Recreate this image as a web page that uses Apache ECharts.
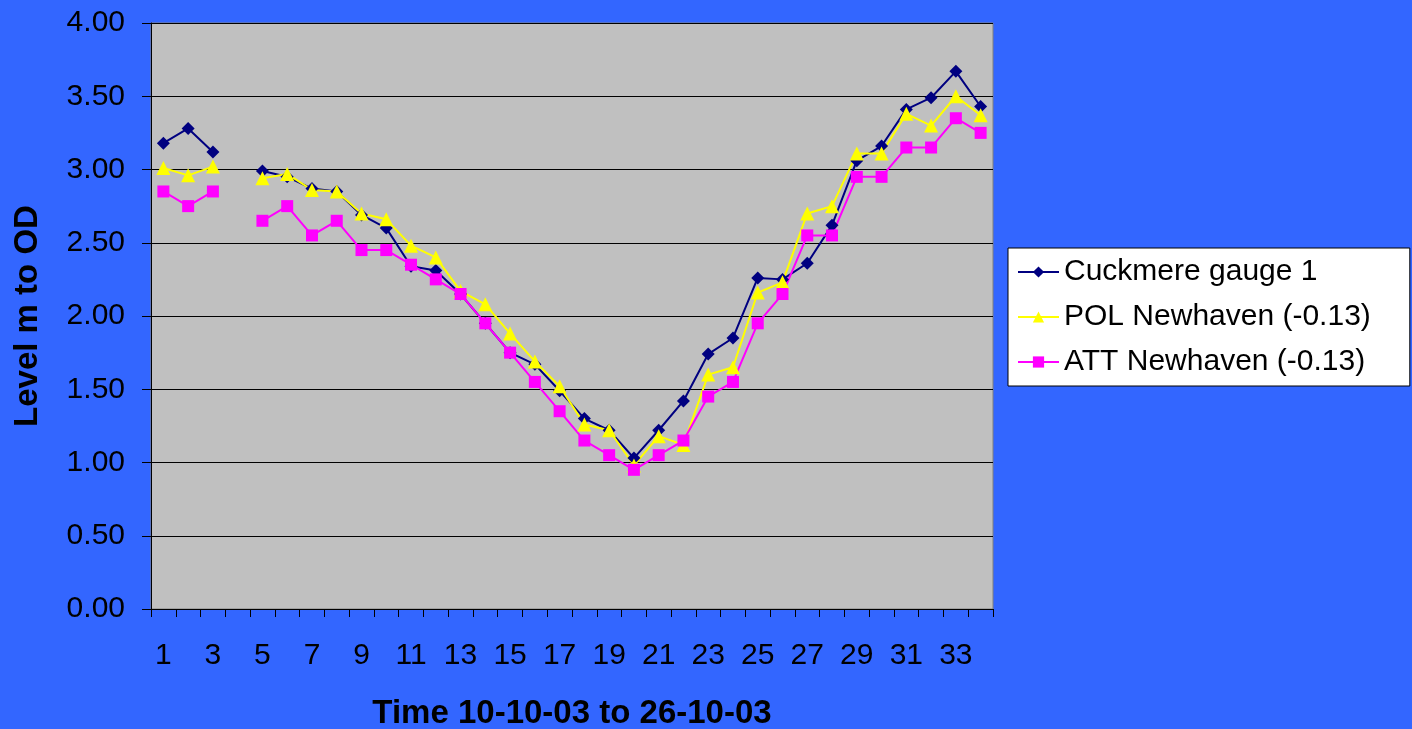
<!doctype html>
<html style="width: 100%; height: 100%"><head><meta charset="utf-8"></head>
<body style="width: 100%; height: 100%; margin: 0; background: #3366FF">
<div id="container" style="width: 1412px; height: 729px"></div>
<script type="text/javascript" src="https://cdn.jsdelivr.net/npm/echarts@6/dist/echarts.min.js"></script>
<script type="text/javascript">
// time steps 1..34, step 4 has no readings
var steps = [];
for (var i = 1; i <= 34; i++) steps.push(String(i));

var cuckmere = [3.18, 3.28, 3.12, null, 2.99, 2.95, 2.87, 2.85, 2.69, 2.60,
    2.34, 2.31, 2.15, 1.95, 1.75, 1.67, 1.49, 1.30, 1.22, 1.03,
    1.22, 1.42, 1.74, 1.85, 2.26, 2.25, 2.36, 2.62, 3.06, 3.16,
    3.41, 3.49, 3.67, 3.43];
var polNewhaven = [3.01, 2.96, 3.02, null, 2.94, 2.97, 2.86, 2.85, 2.70, 2.66,
    2.48, 2.40, 2.17, 2.08, 1.88, 1.69, 1.52, 1.26, 1.22, 0.98,
    1.18, 1.12, 1.60, 1.65, 2.16, 2.23, 2.70, 2.75, 3.11, 3.11,
    3.38, 3.30, 3.50, 3.37];
var attNewhaven = [2.85, 2.75, 2.85, null, 2.65, 2.75, 2.55, 2.65, 2.45, 2.45,
    2.35, 2.25, 2.15, 1.95, 1.75, 1.55, 1.35, 1.15, 1.05, 0.95,
    1.05, 1.15, 1.45, 1.55, 1.95, 2.15, 2.55, 2.55, 2.95, 2.95,
    3.15, 3.15, 3.35, 3.25];

var font = 'Liberation Sans, Arial, sans-serif';
var myChart = echarts.init(document.getElementById('container'));

var option = {
    backgroundColor: '#3366FF',
    animation: false,
    grid: {
        left: 151, right: 419, top: 23, bottom: 120,
        outerBoundsMode: 'none',
        containLabel: false,
        show: true, backgroundColor: '#C0C0C0',
        borderColor: '#808080', borderWidth: 1
    },
    legend: {
        orient: 'vertical',
        left: 1008, top: 248,
        padding: [9, 39, 9, 9],
        backgroundColor: '#FFFFFF',
        borderColor: '#000000', borderWidth: 1,
        itemWidth: 41, itemHeight: 14, itemGap: 15,
        textStyle: {fontFamily: font, fontSize: 30, color: '#000'},
        data: ['Cuckmere gauge 1', 'POL Newhaven (-0.13)', 'ATT Newhaven (-0.13)']
    },
    xAxis: {
        type: 'category',
        data: steps,
        boundaryGap: true,
        name: 'Time 10-10-03 to 26-10-03',
        nameLocation: 'middle',
        nameGap: 88,
        nameTextStyle: {fontFamily: font, fontSize: 33, fontWeight: 'bold', color: '#000'},
        axisLine: {lineStyle: {color: '#000', width: 1}},
        axisTick: {show: true, interval: 0, length: 8, lineStyle: {color: '#000'}},
        axisLabel: {interval: 1, margin: 32, fontFamily: font, fontSize: 30, color: '#000'},
        splitLine: {show: false}
    },
    yAxis: {
        type: 'value',
        min: 0, max: 4, interval: 0.5,
        name: 'Level m to OD',
        nameLocation: 'middle',
        nameGap: 107,
        nameTextStyle: {fontFamily: font, fontSize: 33, fontWeight: 'bold', color: '#000'},
        axisLine: {show: true, lineStyle: {color: '#000', width: 1}},
        axisTick: {show: true, length: 9, lineStyle: {color: '#000'}},
        axisLabel: {
            margin: 26, fontFamily: font, fontSize: 30, color: '#000',
            formatter: function (v) { return v.toFixed(2); }
        },
        splitLine: {lineStyle: {color: '#000', width: 1}}
    },
    series: [
        {
            name: 'Cuckmere gauge 1', type: 'line', data: cuckmere,
            connectNulls: false, symbol: 'diamond', symbolSize: 13,
            itemStyle: {color: '#000080'}, lineStyle: {color: '#000080', width: 2}
        },
        {
            name: 'POL Newhaven (-0.13)', type: 'line', data: polNewhaven,
            connectNulls: false, symbol: 'triangle', symbolSize: 14,
            itemStyle: {color: '#FFFF00'}, lineStyle: {color: '#FFFF00', width: 2}
        },
        {
            name: 'ATT Newhaven (-0.13)', type: 'line', data: attNewhaven,
            connectNulls: false, symbol: 'rect', symbolSize: 12,
            itemStyle: {color: '#FF00FF'}, lineStyle: {color: '#FF00FF', width: 2}
        }
    ]
};

myChart.setOption(option);
</script>
</body></html>
